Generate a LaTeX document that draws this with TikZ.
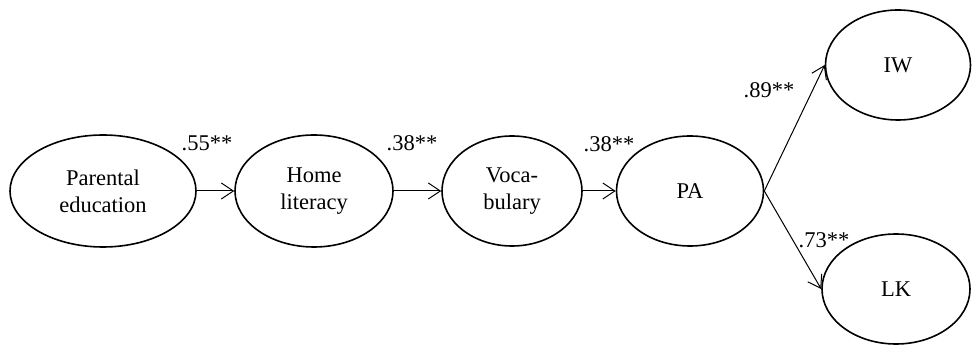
\documentclass[tikz,border=0pt]{standalone}
\usepackage{fontspec}
\setmainfont{Liberation Serif}
\usetikzlibrary{shapes.geometric,arrows.meta}
\begin{document}
\begin{tikzpicture}[x=1pt,y=-1pt,
  latent/.style={draw,ellipse,line width=1.6pt,inner sep=0pt,align=center,font=\fontsize{22.5}{27}\selectfont},
  path/.style={line width=1pt,-{Straight Barb[length=12pt,width=16pt,line width=1pt]}},
  coef/.style={font=\fontsize{22.5}{27}\selectfont,inner sep=0pt}]
\useasboundingbox (0,0) rectangle (972,347);
\node[latent,minimum width=186pt,minimum height=112pt] (pe) at (103,191) {Parental\\education};
\node[latent,minimum width=158pt,minimum height=112pt] (hl) at (314,191) {Home\\literacy};
\node[latent,minimum width=140pt,minimum height=110pt] (voc) at (512,191) {Voca-\\bulary};
\node[latent,minimum width=147pt,minimum height=110pt] (pa) at (690,191) {PA};
\node[latent,minimum width=145pt,minimum height=110pt] (iw) at (898,65) {IW};
\node[latent,minimum width=148pt,minimum height=110pt] (lk) at (896,289) {LK};
\draw[path] (pe.east) -- (hl.west);
\draw[path] (hl.east) -- (voc.west);
\draw[path] (voc.east) -- (pa.west);
\draw[path] (pa.east) -- (iw.west);
\draw[path] (pa.east) -- (lk.west);
\node[coef] (c1) at (207,143) {.55**};
\node[coef] (c2) at (412,143) {.38**};
\node[coef] (c3) at (609,144) {.38**};
\node[coef] (c4) at (769,90) {.89**};
\node[coef] (c5) at (824,240) {.73**};
\end{tikzpicture}
\end{document}
